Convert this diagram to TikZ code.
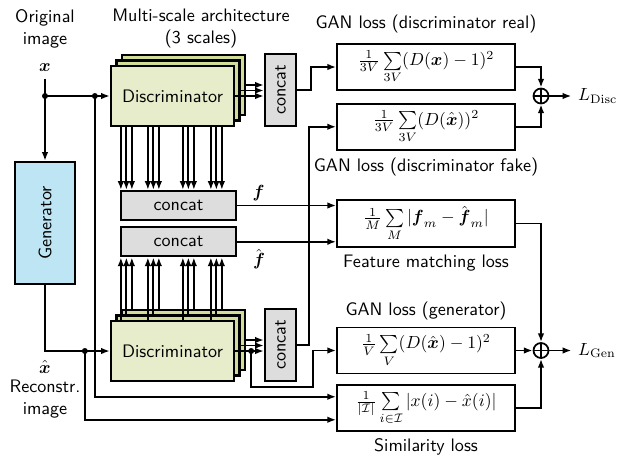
\documentclass[tikz,border=0pt]{standalone}
\usepackage{amsmath}
\usepackage{amssymb}
\usepackage{tikz}
\usetikzlibrary{positioning,arrows.meta}
\usepackage{xcolor}
\definecolor{discfront}{RGB}{231,236,202}
\definecolor{discback}{RGB}{210,221,153}
\definecolor{catgray}{RGB}{221,221,221}
\definecolor{genblue}{RGB}{190,229,243}

\begin{document}
\begin{tikzpicture}[
                font=\sffamily\fontsize{10.3}{12.4}\selectfont,
                line width=1pt,
                disc/.style={draw, line width=1.3pt, minimum width=2.46cm, minimum height=1.2cm},
                catbox/.style={draw, line width=1.3pt, fill=catgray, inner sep=1pt},
                lossbox/.style={draw, line width=1pt, minimum width=3.56cm, minimum height=0.92cm},
                lbl/.style={inner sep=1pt},
                sumnode/.style={draw, circle, minimum size=0.3cm, inner sep=0pt,
                    path picture={\draw[line width=0.9pt] (path picture bounding box.north) -- (path picture bounding box.south)
                        (path picture bounding box.west) -- (path picture bounding box.east);}}
            ]
                \useasboundingbox (0,0) rectangle (12.58,-9.12);

                % Inputs and generator
                \node[align=center] (orig) at (0.9,-0.58) {Original\\image};
                \node (xin) at (0.9,-1.36) {$\boldsymbol{x}$};
                \node[draw, line width=1.3pt, fill=genblue, rotate=90, minimum width=2.44cm, minimum height=1.2cm] (generator) at (0.9,-4.46) {Generator};
                \node (xrec) at (0.9,-7.34) {$\hat{\boldsymbol{x}}$};
                \node[align=center] (recon) at (0.9,-7.98) {Reconstr.\\image};

                % Concat blocks
                \node[align=center] (multi) at (4.02,-0.57) {Multi-scale architecture\\(3 scales)};
                \node[catbox, rotate=90, minimum width=1.44cm, minimum height=0.62cm] (catU) at (5.61,-1.8) {concat};
                \node[catbox, rotate=90, minimum width=1.44cm, minimum height=0.62cm] (catL) at (5.61,-6.9) {concat};
                \node[catbox, minimum width=2.3cm, minimum height=0.58cm] (fcat) at (3.57,-4.11) {concat};
                \node[catbox, minimum width=2.3cm, minimum height=0.58cm, below=0.1cm of fcat] (fhcat) {concat};
                \node (flbl) at (5.17,-3.86) {$\boldsymbol{f}$};
                \node (fhlbl) at (5.18,-5.18) {$\hat{\boldsymbol{f}}$};

                % Discriminator stacks (back to front)
                \foreach \k/\s/\c/\t in {2/0.22/discback/{}, 1/0.11/discback/{}, 0/0/discfront/Discriminator} {
                    \node[disc, fill=\c] (discA\k) at (3.45+\s,-1.92+\s) {\t};
                    \foreach \o in {0.22,0.76,1.46,2.02} {
                        \coordinate (tmp) at ([xshift=\o cm]discA\k.south west);
                        \draw[-{Latex[length=5pt]}] (tmp) -- (tmp |- fcat.north);
                    }
                    \draw[-{Latex[length=5pt]}] (discA\k.east) -- (discA\k.east -| catU.north);

                    \node[disc, fill=\c] (discB\k) at (3.45+\s,-7.02+\s) {\t};
                    \foreach \o in {0.22,0.76,1.46,2.02} {
                        \coordinate (tmp) at ([xshift=\o cm]discB\k.north west);
                        \draw[-{Latex[length=5pt]}] (tmp) -- (tmp |- fhcat.south);
                    }
                    \draw[-{Latex[length=5pt]}] (discB\k.east) -- (discB\k.east -| catL.north);
                }

                % Loss terms
                \node[lossbox] (lreal) at (8.52,-1.34) {$\frac{1}{3V}\sum\limits_{3V}(D(\boldsymbol{x})-1)^2$};
                \node[lossbox, below=0.24cm of lreal] (lfake) {$\frac{1}{3V}\sum\limits_{3V}(D(\hat{\boldsymbol{x}}))^2$};
                \node[lossbox] (lfeat) at (8.52,-4.47) {$\frac{1}{M}\sum\limits_{M}|\boldsymbol{f}_m-\hat{\boldsymbol{f}}_m|$};
                \node[lossbox] (lgan) at (8.52,-7.01) {$\frac{1}{V}\sum\limits_{V}(D(\hat{\boldsymbol{x}})-1)^2$};
                \node[lossbox, below=0.2cm of lgan] (lsim) {$\frac{1}{|\mathcal{I}|}\sum\limits_{i\in\mathcal{I}}|x(i)-\hat{x}(i)|$};

                \node[lbl, above=0.14cm of lreal] (labReal) {GAN loss (discriminator real)};
                \node[lbl, below=0.1cm of lfake] (labFake) {GAN loss (discriminator fake)};
                \node[lbl, below=0.1cm of lfeat] (labFeat) {Feature matching loss};
                \node[lbl, above=0.08cm of lgan] (labGan) {GAN loss (generator)};
                \node[lbl, below=0.08cm of lsim] (labSim) {Similarity loss};

                \node[sumnode] (sumD) at (10.82,-1.92) {};
                \node[sumnode] (sumG) at (10.82,-7.01) {};
                \node[right=0.44cm of sumD] (ldisc) {$L_{\mathrm{Disc}}$};
                \node[right=0.44cm of sumG] (lgen) {$L_{\mathrm{Gen}}$};

                % Image paths
                \coordinate (j1) at (xin |- discA0.west);
                \coordinate (j2) at ([xshift=-0.3cm]discA0.west);
                \coordinate (j3) at ([xshift=-0.5cm]discB0.west);
                \coordinate (jg) at ([xshift=0.32cm]discB0.east);
                \draw[-{Latex[length=5pt]}] (xin) -- (generator.east);
                \draw[-{Latex[length=5pt]}] (j1) -- (discA0.west);
                \draw[-{Latex[length=5pt]}] (generator.west) |- (discB0.west);
                \draw[-{Latex[length=5pt]}] (j2) |- ([yshift=0.23cm]lsim.west);
                \draw[-{Latex[length=5pt]}] (j3) |- ([yshift=-0.23cm]lsim.west);
                \foreach \j in {j1,j2,j3,jg} \fill (\j) circle (1.7pt);

                % Into the losses
                \draw[-{Latex[length=5pt]}] (catU.south) -- ++(0.28,0) |- (lreal.west);
                \draw[-{Latex[length=5pt]}] (catL.south) -- ++(0.24,0) |- (lfake.west);
                \draw[-{Latex[length=5pt]}] (fcat.east) -- (fcat.east -| lfeat.west);
                \draw[-{Latex[length=5pt]}] (fhcat.east) -- (fhcat.east -| lfeat.west);
                \draw[-{Latex[length=5pt]}] (jg) -- ++(0,-0.72) -| ([xshift=-0.46cm]lgan.west) -- (lgan.west);

                % Sums
                \draw[-{Latex[length=5pt]}] (lreal.east) -| (sumD.north);
                \draw[-{Latex[length=5pt]}] (lfake.east) -| (sumD.south);
                \draw[-{Latex[length=5pt]}] (sumD) -- (ldisc);
                \draw[-{Latex[length=5pt]}] (lfeat.east) -| (sumG.north);
                \draw[-{Latex[length=5pt]}] (lgan.east) -- (sumG.west);
                \draw[-{Latex[length=5pt]}] (lsim.east) -| (sumG.south);
                \draw[-{Latex[length=5pt]}] (sumG) -- (lgen);
            \end{tikzpicture}
\end{document}
